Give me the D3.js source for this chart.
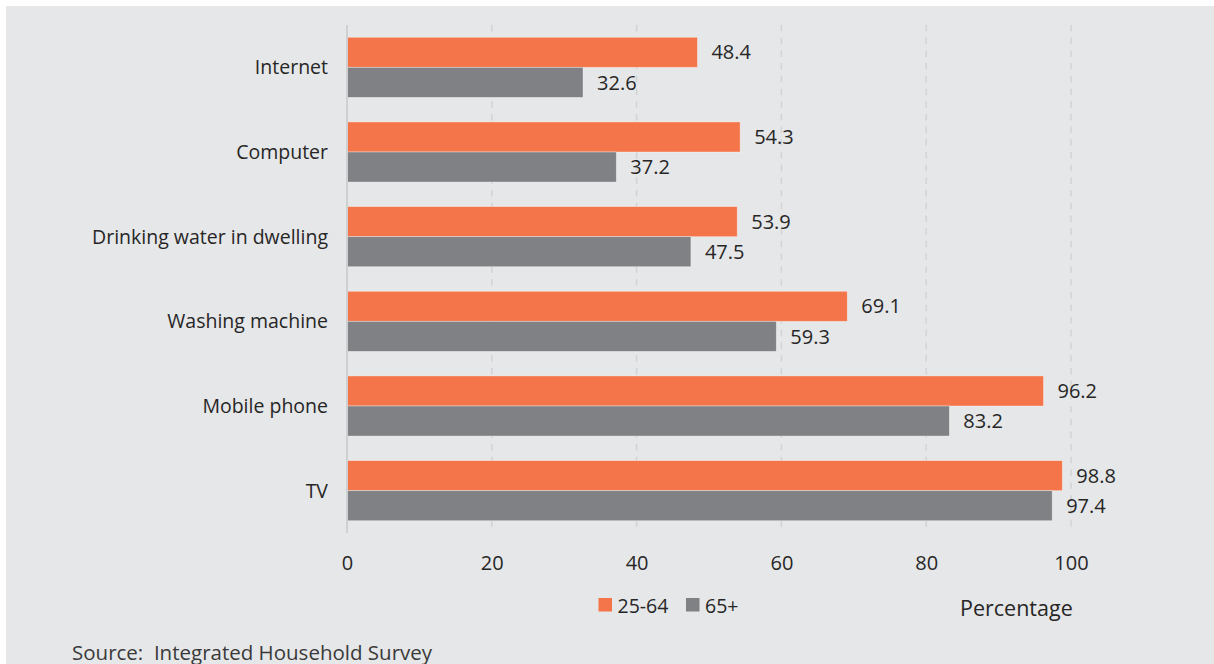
<!DOCTYPE html>
<html>
<head>
<meta charset="utf-8">
<script src="https://cdn.jsdelivr.net/npm/d3@7"></script>
<style>
  body { margin: 0; background: #ffffff; }
  svg { display: block; }
  text { font-family: "Open Sans", sans-serif; fill: #262626; }
</style>
</head>
<body>
<svg id="chart" width="1214" height="664"></svg>
<script>
// Household amenities by age group (percentage of households)
const categories = ["Internet", "Computer", "Drinking water in dwelling", "Washing machine", "Mobile phone", "TV"];
const seriesNames = ["25-64", "65+"];
const adultValues = [48.4, 54.3, 53.9, 69.1, 96.2, 98.8];
const seniorValues = [32.6, 37.2, 47.5, 59.3, 83.2, 97.4];
const tickValues = [0, 20, 40, 60, 80, 100];
const seriesColors = ["#f4754a", "#808184"];
const axisTitle = "Percentage";
const sourceNote = "Source:  Integrated Household Survey";

const rows = categories.map((c, i) => ({ category: c, values: [adultValues[i], seniorValues[i]] }));

const svg = d3.select("#chart");
const W = 1214, H = 664;
const plot = { left: 347, right: 1071, top: 25, bottom: 533 };

// panel background
svg.append("rect").attr("x", 6).attr("y", 6).attr("width", W - 6).attr("height", H - 6).attr("fill", "#e6e7e8");

const x = d3.scaleLinear().domain([0, 100]).range([plot.left, plot.right]);
const y = d3.scaleBand().domain(categories).range([plot.top, plot.bottom]).paddingInner(0.29).paddingOuter(0.145);
const ySub = d3.scaleBand().domain([0, 1]).range([0, y.bandwidth()]).padding(0);

// dashed vertical gridlines
svg.append("g").selectAll("line")
  .data(tickValues.filter(t => t > 0))
  .join("line")
  .attr("x1", d => x(d)).attr("x2", d => x(d))
  .attr("y1", plot.top).attr("y2", plot.bottom)
  .attr("stroke", "#d2d3d5").attr("stroke-width", 1.5)
  .attr("stroke-dasharray", "6.5,6.2");

// tick labels along the bottom
const xAxis = d3.axisBottom(x).tickValues(tickValues).tickSize(0).tickPadding(0).tickFormat(d3.format("d"));
const gx = svg.append("g").attr("transform", `translate(0,${plot.bottom})`).call(xAxis);
gx.select(".domain").remove();
gx.selectAll("text")
  .attr("y", 0).attr("dy", null)
  .attr("transform", "translate(0,37)")
  .style("font-family", "\"Open Sans\", sans-serif")
  .style("font-size", "20px")
  .style("fill", "#262626");

// bars
const groups = svg.append("g").selectAll("g")
  .data(rows)
  .join("g")
  .attr("transform", d => `translate(0,${y(d.category)})`);

groups.selectAll("rect")
  .data(d => d.values)
  .join("rect")
  .attr("x", x(0))
  .attr("y", (v, i) => ySub(i))
  .attr("width", v => x(v) - x(0))
  .attr("height", ySub.bandwidth())
  .attr("fill", (v, i) => seriesColors[i])
  .attr("stroke", "rgba(255,255,255,0.45)")
  .attr("stroke-width", 0.8);

// value labels
groups.selectAll("text.value")
  .data(d => d.values)
  .join("text")
  .attr("class", "value")
  .attr("x", v => x(v) + 14)
  .attr("y", (v, i) => ySub(i) + ySub.bandwidth() / 2)
  .attr("dy", "0.36em")
  .style("font-size", "20px")
  .text(v => d3.format(".1f")(v));

// vertical axis line and category labels
svg.append("line")
  .attr("x1", x(0)).attr("x2", x(0))
  .attr("y1", plot.top).attr("y2", plot.bottom)
  .attr("stroke", "#cfd0d2").attr("stroke-width", 2);

svg.append("g").selectAll("text")
  .data(categories)
  .join("text")
  .attr("x", x(0) - 19)
  .attr("y", d => y(d) + y.bandwidth() / 2)
  .attr("dy", "0.36em")
  .attr("text-anchor", "end")
  .style("font-size", "19.5px")
  .text(d => d);

// legend
const legendItems = [
  { name: seriesNames[0], color: seriesColors[0], x: 598.5 },
  { name: seriesNames[1], color: seriesColors[1], x: 686 }
];
const legend = svg.append("g").selectAll("g").data(legendItems).join("g")
  .attr("transform", d => `translate(${d.x},598)`);
legend.append("rect").attr("width", 13.5).attr("height", 13.5).attr("fill", d => d.color);
legend.append("text").attr("x", 19).attr("y", 14.5).style("font-size", "19.5px").text(d => d.name);

// axis title
svg.append("text").attr("x", 960).attr("y", 615.5).style("font-size", "21.5px").text(axisTitle);

// source note (keeps its double space)
svg.append("text").attr("x", 72).attr("y", 659.5)
  .style("font-size", "20.5px").style("fill", "#3a3a3a").style("white-space", "pre")
  .text(sourceNote);
</script>
</body>
</html>
